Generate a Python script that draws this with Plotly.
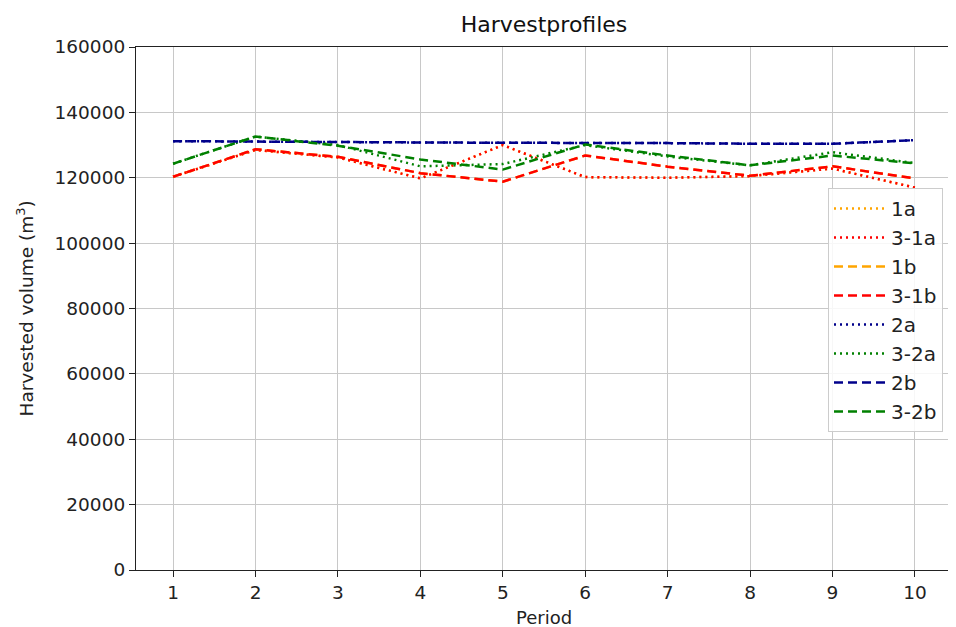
import plotly.graph_objects as go

periods = [1, 2, 3, 4, 5, 6, 7, 8, 9, 10]

s_1a   = [120300, 128500, 126200, 119800, 130000, 120200, 120000, 120500, 122800, 117000]
s_31a  = [120300, 128500, 126200, 119800, 130000, 120200, 120000, 120500, 122800, 117000]
s_1b   = [120300, 128700, 126400, 121400, 118800, 126800, 123400, 120600, 123500, 119800]
s_31b  = [120300, 128700, 126400, 121400, 118800, 126800, 123400, 120600, 123500, 119800]
s_2a   = [131200, 131000, 130900, 130800, 130700, 130700, 130600, 130400, 130400, 131500]
s_32a  = [124300, 132600, 130000, 123500, 124200, 130000, 126500, 123800, 127800, 124500]
s_2b   = [131200, 131000, 130900, 130800, 130700, 130700, 130600, 130400, 130400, 131500]
s_32b  = [124300, 132600, 129800, 125600, 122500, 130200, 126800, 123800, 126800, 124400]

labels = ["1a", "3-1a", "1b", "3-1b", "2a", "3-2a", "2b", "3-2b"]
series = [s_1a, s_31a, s_1b, s_31b, s_2a, s_32a, s_2b, s_32b]
colors = ["#FFA500", "#FF0000", "#FFA500", "#FF0000", "#00008B", "#008000", "#00008B", "#008000"]
dashes = ["2px,4px", "2px,4px", "9px,5px", "9px,5px", "2px,4px", "2px,4px", "9px,5px", "9px,5px"]

y_ticks = [0, 20000, 40000, 60000, 80000, 100000, 120000, 140000, 160000]

fig = go.Figure()
for lab, ys, c, d in zip(labels, series, colors, dashes):
    fig.add_trace(go.Scatter(x=periods, y=ys, mode="lines", name=lab,
                             line=dict(color=c, dash=d, width=2.5)))

FF = "DejaVu Sans"
font = dict(family=FF, size=18, color="#222222")

OFF = 8  # page body margin
W, H = 956 - OFF, 627 - OFF
L, R, T, B = 136 - OFF, 952 - OFF, 47 - OFF, 570 - OFF

fig.update_layout(
    width=W, height=H,
    margin=dict(l=L, r=W - R, t=T, b=H - B, autoexpand=False),
    paper_bgcolor="white", plot_bgcolor="white",
    font=font,
    title=dict(text="Harvestprofiles", x=(L + R) / 2 / W, xanchor="center",
               y=1 - (24 - OFF) / H, yanchor="middle", yref="container",
               font=dict(family=FF, size=22, color="#111111")),
    showlegend=True,
    legend=dict(x=(943 - OFF - L) / (R - L), xanchor="right", y=(B - (188 - OFF)) / (B - T), yanchor="top",
                bgcolor="rgba(255,255,255,0.85)", bordercolor="#cccccc", borderwidth=1,
                font=dict(family=FF, size=20, color="#222222"),
                tracegroupgap=0, itemwidth=52),
    annotations=[
        dict(text="Period", x=0.5, y=-((617 - OFF) - B) / (B - T), xref="paper", yref="paper",
             showarrow=False, xanchor="center", yanchor="middle",
             font=dict(family=FF, size=18, color="#222222")),
        dict(text="Harvested volume (m<sup>3</sup>)", x=-(L - (25 - OFF)) / (R - L), y=0.5,
             xref="paper", yref="paper", xanchor="center", yanchor="middle",
             showarrow=False, textangle=-90, font=dict(family=FF, size=18.5, color="#222222")),
    ],
)

fig.update_xaxes(range=[0.55, 10.45], tickvals=periods, ticktext=[str(p) for p in periods],
                 showgrid=True, gridcolor="#c8c8c8", gridwidth=1,
                 showline=True, linecolor="#222222", linewidth=1.2, mirror=True,
                 ticks="outside", ticklen=6, tickcolor="#222222",
                 tickfont=dict(family=FF, size=18.5, color="#222222"),
                 zeroline=False, automargin=False)
fig.update_yaxes(range=[0, 160000], tickvals=y_ticks, ticktext=[str(v) for v in y_ticks],
                 showgrid=True, gridcolor="#c8c8c8", gridwidth=1,
                 showline=True, linecolor="#222222", linewidth=1.2, mirror=True,
                 ticks="outside", ticklen=6, tickcolor="#222222",
                 tickfont=dict(family=FF, size=18.5, color="#222222"),
                 zeroline=False, automargin=False)

fig.write_html("out.html")
